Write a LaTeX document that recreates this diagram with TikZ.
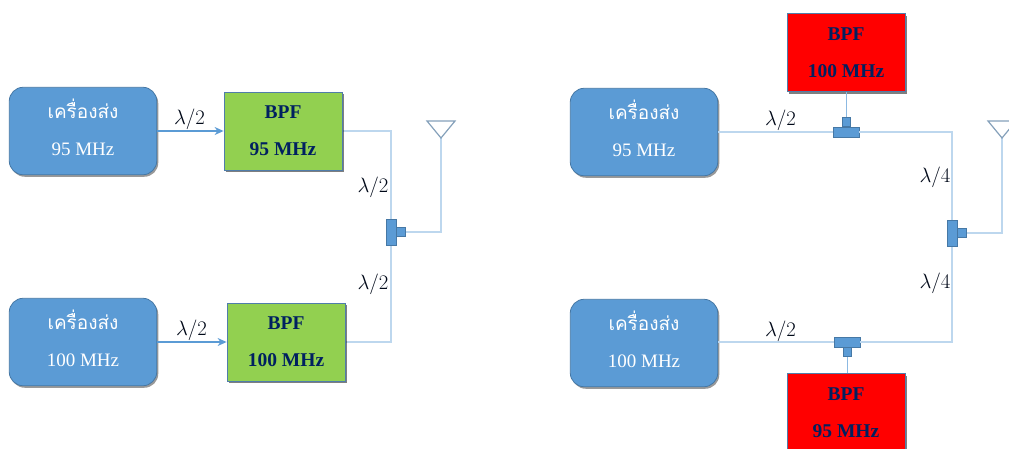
\documentclass[tikz,border=0pt]{standalone}
\usepackage{fontspec}
\setmainfont{Liberation Serif}
\newfontfamily\thaifont[Script=Thai]{Loma}
\usepackage{xcolor}
\usepackage{tikz}
\usetikzlibrary{arrows.meta,positioning,shadows}
\definecolor{txcol}{RGB}{91,155,213}
\definecolor{txedge}{RGB}{70,120,165}
\definecolor{bpfedge}{RGB}{80,125,170}
\definecolor{passcol}{RGB}{146,208,80}
\definecolor{stopcol}{RGB}{255,0,0}
\definecolor{navycol}{RGB}{0,32,96}
\definecolor{linecol}{RGB}{189,215,238}
\definecolor{antcol}{RGB}{132,160,186}
\tikzset{
  tx/.style      ={rectangle, rounded corners=14pt, draw=txedge, thick, fill=txcol, text=white,
                   align=center, minimum width=147.5pt, minimum height=87.5pt, inner sep=0pt,
                   text depth=7pt, font=\fontsize{19}{37}\selectfont,
                   drop shadow={shadow xshift=1.5pt, shadow yshift=-2pt, fill=black, opacity=.4}},
  bpf/.style     ={rectangle, draw=bpfedge, thick, text=navycol,
                   align=center, minimum width=118pt, minimum height=78pt, inner sep=0pt,
                   font=\fontsize{19.5}{37}\selectfont\bfseries,
                   drop shadow={shadow xshift=2pt, shadow yshift=-2pt, fill=black, opacity=.5}},
  pass/.style    ={bpf, fill=passcol},
  stopb/.style   ={bpf, fill=stopcol},
  tee/.style     ={rectangle, draw=txedge, fill=txcol, inner sep=0pt},
  feed/.style    ={draw=linecol, line width=1.1pt},
  thin/.style    ={draw=txcol!70, line width=.9pt},
  flow/.style    ={-{Stealth[length=9pt,width=8pt]}, draw=txcol, line width=1.2pt},
  ant/.style     ={draw=antcol, line width=1.2pt},
  lbl/.style     ={font=\fontsize{22}{22}\selectfont, text=black!75!navycol, inner sep=0pt},
}
\begin{document}
\begin{tikzpicture}[x=1pt,y=-1pt]
    \clip (0,0) rectangle (1009,448);

    % left side
    \coordinate (jointa) at (391,232);
    \coordinate (antfeeda) at (441,138);
    \draw[feed] (283,131) -| (jointa);
    \draw[feed] (286,342) -| (jointa);
    \draw[feed] (jointa) -| (antfeeda);
    \node[tx] (txa) at (83,131) {\thaifont เครื่องส่ง\\95 MHz};
    \node[tx] (txb) at (83,342) {\thaifont เครื่องส่ง\\100 MHz};
    \node[pass] (bpfa) at (283,131) {BPF\\95 MHz};
    \node[pass] (bpfb) at (286,342) {BPF\\100 MHz};
    \draw[flow] (txa) -- (bpfa);
    \draw[flow] (txb) -- (bpfb);
    \node[tee, minimum width=10pt, minimum height=26pt] (comba) at (jointa) {};
    \node[tee, minimum width=9pt, minimum height=9pt, right=0pt of comba] (stuba) {};
    \draw[ant] (antfeeda) -- ++(-14,-17) -- ++(28,0) -- cycle;

    \node[lbl] (la) at (189.5,119) {$\lambda/2$};
    \node[lbl] (lb) at (191.5,330) {$\lambda/2$};
    \node[lbl] (lc) at (373,187) {$\lambda/2$};
    \node[lbl] (ld) at (373,284) {$\lambda/2$};

    % right side
    \coordinate (jointb) at (952,233);
    \coordinate (antfeedb) at (1002,138);
    \node[tx] (txc) at (644,132) {\thaifont เครื่องส่ง\\95 MHz};
    \node[tx] (txd) at (644,343) {\thaifont เครื่องส่ง\\100 MHz};
    \node[stopb] (bpfc) at (846,52.5) {BPF\\100 MHz};
    \node[stopb] (bpfd) at (846,412.5) {BPF\\95 MHz};
    \node[tee, minimum width=26pt, minimum height=10pt] (teec) at (846,132) {};
    \node[tee, minimum width=8pt, minimum height=9pt, above=0pt of teec] (stubc) {};
    \node[tee, minimum width=26pt, minimum height=10pt] (teed) at (847,342) {};
    \node[tee, minimum width=8pt, minimum height=9pt, below=0pt of teed] (stubd) {};

    \draw[feed] (txc) -- (teec);
    \draw[feed] (teed -| txd.east) -- (teed);
    \draw[feed] (teec) -| (jointb);
    \draw[feed] (teed) -| (jointb);
    \draw[feed] (jointb) -| (antfeedb);
    \draw[thin] (bpfc) -- (stubc);
    \draw[thin] (bpfd.north -| stubd) -- (stubd);
    \node[tee, minimum width=10pt, minimum height=26pt] (combb) at (jointb) {};
    \node[tee, minimum width=9pt, minimum height=9pt, right=0pt of combb] (stubb) {};
    \draw[ant] (antfeedb) -- ++(-14,-17) -- ++(28,0) -- cycle;

    \node[lbl] (le) at (780.5,120) {$\lambda/2$};
    \node[lbl] (lf) at (780.5,331) {$\lambda/2$};
    \node[lbl] (lg) at (935,177) {$\lambda/4$};
    \node[lbl] (lh) at (935,283) {$\lambda/4$};
\end{tikzpicture}
\end{document}
